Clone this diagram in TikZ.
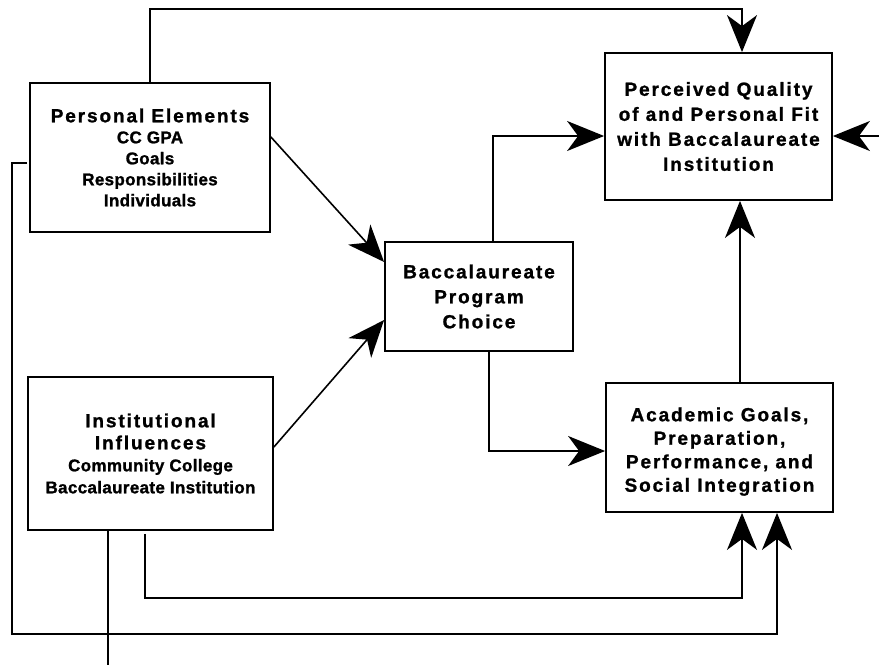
\documentclass[tikz,border=0pt]{standalone}
\usepackage{fontspec}
\setmainfont{Liberation Sans}
\newfontfamily\ttlfont[LetterSpace=10,BoldFeatures={FakeBold=1.2}]{Liberation Sans}
\newfontfamily\bdyfont[LetterSpace=2,BoldFeatures={FakeBold=1.2}]{Liberation Sans}
\usetikzlibrary{arrows.meta}
\newcommand\Ttl[1]{\fontsize{19pt}{#1pt}\ttlfont\bfseries}
\newcommand\Bdy[1]{\fontsize{17pt}{#1pt}\bdyfont\bfseries}
\begin{document}
\begin{tikzpicture}[x=1pt,y=-1pt,
  box/.style={draw,line width=1.8pt,inner sep=0pt,rectangle,align=center},
  conn/.style={line width=1.6pt},
  arr/.style={conn,-{Stealth[length=37pt,width=30pt,inset=11pt]}}]
\useasboundingbox (0,0) rectangle (879,667);

% boxes
\node[box,minimum width=240pt,minimum height=149pt,font=\Bdy{21}] (pe) at (150,157.5)
  {{\Ttl{21}Personal Elements}\\CC GPA\\Goals\\Responsibilities\\Individuals};
\node[box,minimum width=227pt,minimum height=147pt,font=\Ttl{25}] (pq) at (718.5,126.5)
  {Perceived Quality\\of and Personal Fit\\with Baccalaureate\\Institution};
\node[box,minimum width=188pt,minimum height=109pt,font=\Ttl{25}] (bp) at (479,296.5)
  {Baccalaureate\\Program\\Choice};
\node[box,minimum width=227pt,minimum height=129pt,font=\Ttl{23.5}] (ag) at (719.5,447.5)
  {\rule{0pt}{22pt}Academic Goals,\\Preparation,\\Performance, and\\Social Integration};
\node[box,minimum width=245pt,minimum height=153pt,font=\Bdy{22}] (ii) at (150.5,453.5)
  {{\Ttl{22}Institutional}\\{\Ttl{22}Influences}\\Community College\\Baccalaureate Institution};

% helper coordinates
\coordinate (c1) at (742,9);
\coordinate (re) at (879,136);
\coordinate (c2) at (493,136);
\coordinate (c3) at (740,0);
\coordinate (c4) at (489,451);
\coordinate (c5) at (145,598);
\coordinate (c6) at (742,598);
\coordinate (c8) at (12,634);
\coordinate (c9) at (777,634);
\coordinate (c10) at (108,665);

% connectors
\draw[arr] (pe.north) |- (c1) -- (c1 |- pq.north);
\draw[arr] (re) -- (re -| pq.east);
\draw[arr] (c2 |- bp.north) -- (c2) -- (c2 -| pq.west);
\draw[arr] (c3 |- ag.north) -- (c3 |- pq.south);
\draw[arr] (c4 |- bp.south) -- (c4) -- (c4 -| ag.west);
\draw[arr] ([yshift=20.5pt]pe.east) -- ([yshift=34.5pt]bp.west);
\draw[arr] ([yshift=6.5pt]ii.east) -- ([yshift=-23.5pt]bp.west);
\draw[arr] ([yshift=-3pt]c5 |- ii.south) -- (c5) -- (c6) -- (c6 |- ag.south);
\draw[arr] ([yshift=-5.5pt,xshift=-2pt]pe.west) -| (c8) -- (c9) -- (c9 |- ag.south);
\draw[conn] (c10 |- ii.south) -- (c10);
\end{tikzpicture}
\end{document}
